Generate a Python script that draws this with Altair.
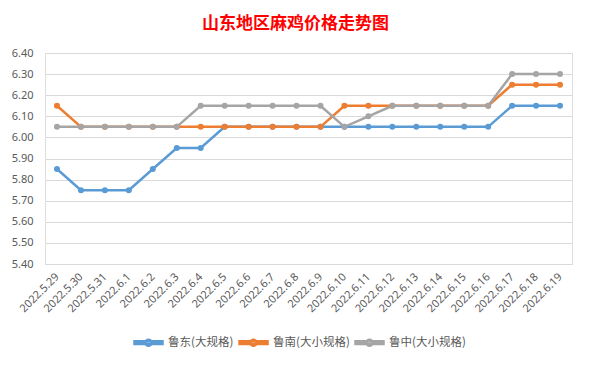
import altair as alt
import pandas as pd

dates = ["2022.5.29", "2022.5.30", "2022.5.31"] + [f"2022.6.{d}" for d in range(1, 20)]
series_names = ["鲁东(大规格)", "鲁南(大小规格)", "鲁中(大小规格)"]
ludong = [5.85, 5.75, 5.75, 5.75, 5.85, 5.95, 5.95, 6.05, 6.05, 6.05, 6.05,
          6.05, 6.05, 6.05, 6.05, 6.05, 6.05, 6.05, 6.05, 6.15, 6.15, 6.15]
lunan = [6.15, 6.05, 6.05, 6.05, 6.05, 6.05, 6.05, 6.05, 6.05, 6.05, 6.05,
         6.05, 6.15, 6.15, 6.15, 6.15, 6.15, 6.15, 6.15, 6.25, 6.25, 6.25]
luzhong = [6.05, 6.05, 6.05, 6.05, 6.05, 6.05, 6.15, 6.15, 6.15, 6.15, 6.15,
           6.15, 6.05, 6.10, 6.15, 6.15, 6.15, 6.15, 6.15, 6.30, 6.30, 6.30]
colors = ["#5B9BD5", "#ED7D31", "#A5A5A5"]
y_ticks = [5.4, 5.5, 5.6, 5.7, 5.8, 5.9, 6.0, 6.1, 6.2, 6.3, 6.4]

rows = []
for name, vals in zip(series_names, [ludong, lunan, luzhong]):
    for i, (d, v) in enumerate(zip(dates, vals)):
        rows.append({"date": d, "price": v, "series": name, "order": i})
df = pd.DataFrame(rows)

legend_path = ("M-1,-0.1L1,-0.1L1,0.1L-1,0.1Z "
               "M-0.22,0A0.22,0.22,0,1,0,0.22,0A0.22,0.22,0,1,0,-0.22,0Z")

chart = alt.Chart(df).mark_line(
    strokeWidth=2.5,
    point=alt.OverlayMarkDef(filled=True, size=36, opacity=1),
).encode(
    x=alt.X("date:N", sort=dates,
            scale=alt.Scale(type="point", padding=0.5),
            axis=alt.Axis(title=None, labelAngle=-45, labelAlign="right",
                          labelBaseline="middle", labelPadding=11,
                          labelFontSize=11, labelColor="#595959",
                          labelFont="Noto Sans", ticks=False,
                          domainColor="#D9D9D9", grid=False)),
    y=alt.Y("price:Q",
            scale=alt.Scale(domain=[5.4, 6.4], nice=False, zero=False),
            axis=alt.Axis(title=None, values=y_ticks, format=".2f",
                          labelFontSize=11, labelColor="#595959",
                          labelFont="Noto Sans", labelPadding=12,
                          ticks=False, domain=False, gridColor="#D9D9D9")),
    color=alt.Color("series:N", sort=series_names,
                    scale=alt.Scale(domain=series_names, range=colors),
                    legend=alt.Legend(title=None, orient="none",
                                      direction="horizontal",
                                      legendX=88, legendY=274,
                                      symbolType=legend_path, symbolSize=784,
                                      symbolStrokeWidth=2.5,
                                      labelFontSize=11.5, labelColor="#595959",
                                      labelFont="Noto Sans CJK SC",
                                      labelOffset=4, columnPadding=0)),
    order="order:Q",
).properties(
    width=527,
    height=211,
    title=alt.TitleParams("山东地区麻鸡价格走势图", color="#FF0000",
                          fontSize=17, fontWeight="bold",
                          font="Noto Sans CJK SC", anchor="middle",
                          dx=-13, offset=14),
    autosize=alt.AutoSizeParams(type="none"),
    padding={"left": 37, "top": 45, "right": 11, "bottom": 93},
).configure_view(stroke=None).configure(background="white")

chart.save("out.html", embed_options={"renderer": "svg", "actions": False})
